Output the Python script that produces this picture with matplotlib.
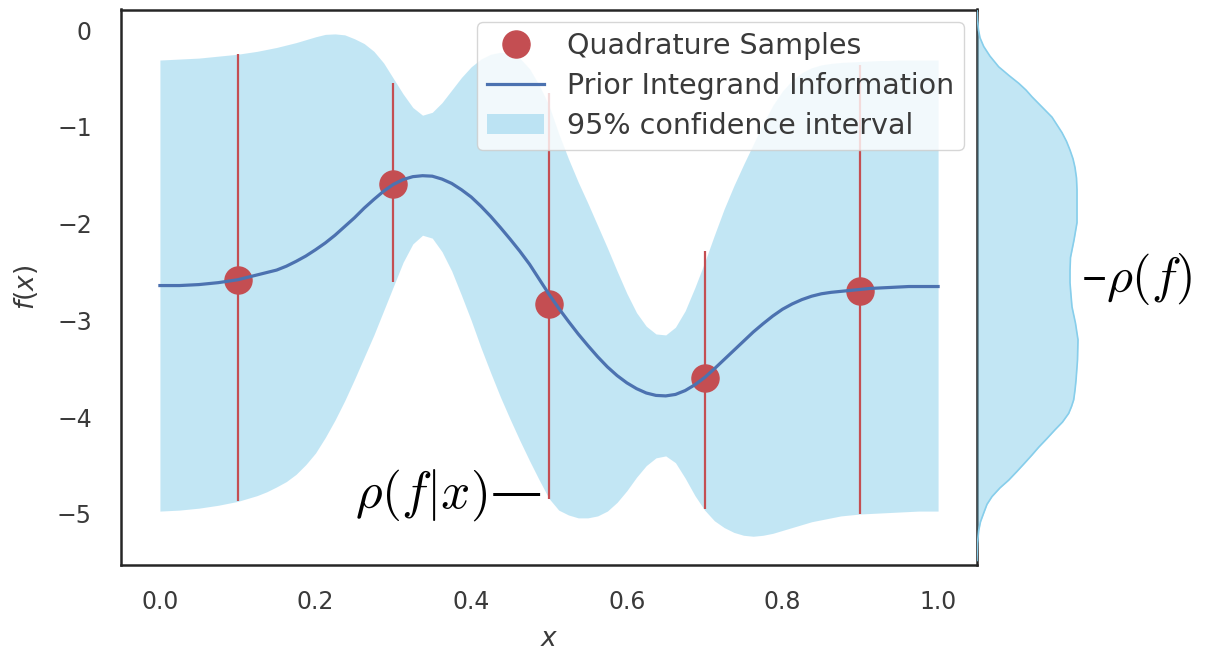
import numpy as np
import matplotlib
matplotlib.use("Agg")
import matplotlib.pyplot as plt
from matplotlib.lines import Line2D
from matplotlib.patches import Patch

# ---------------- data ----------------
x_grid = np.linspace(0.0, 1.0, 81)   # sampling positions, step 0.0125

mean_f = [-2.64, -2.64, -2.64, -2.635, -2.63, -2.62, -2.61, -2.595, -2.58, -2.555,
          -2.53, -2.505, -2.48, -2.44, -2.39, -2.335, -2.27, -2.20, -2.12, -2.03,
          -1.94, -1.84, -1.75, -1.665, -1.595, -1.545, -1.515, -1.505, -1.51, -1.54,
          -1.585, -1.65, -1.725, -1.82, -1.925, -2.04, -2.16, -2.285, -2.42, -2.575,
          -2.73, -2.875, -3.01, -3.14, -3.26, -3.375, -3.48, -3.57, -3.645, -3.705,
          -3.75, -3.775, -3.78, -3.765, -3.725, -3.665, -3.59, -3.50, -3.405, -3.31,
          -3.215, -3.12, -3.035, -2.955, -2.885, -2.83, -2.785, -2.75, -2.725, -2.71,
          -2.70, -2.69, -2.68, -2.67, -2.665, -2.66, -2.655, -2.65, -2.65, -2.65, -2.65]

upper_f = [-0.31, -0.305, -0.30, -0.295, -0.29, -0.28, -0.27, -0.26, -0.25, -0.235,
           -0.22, -0.20, -0.18, -0.155, -0.13, -0.10, -0.07, -0.045, -0.04, -0.05,
           -0.09, -0.14, -0.22, -0.34, -0.50, -0.66, -0.80, -0.88, -0.85, -0.75,
           -0.62, -0.49, -0.38, -0.30, -0.25, -0.23, -0.24, -0.29, -0.40, -0.57,
           -0.78, -1.07, -1.33, -1.57, -1.79, -2.02, -2.25, -2.49, -2.72, -2.92,
           -3.06, -3.14, -3.15, -3.07, -2.90, -2.66, -2.40, -2.12, -1.85, -1.61,
           -1.39, -1.18, -0.97, -0.78, -0.63, -0.52, -0.44, -0.39, -0.36, -0.345,
           -0.335, -0.33, -0.325, -0.32, -0.315, -0.315, -0.31, -0.31, -0.31, -0.31, -0.31]

lower_f = [-4.97, -4.965, -4.96, -4.95, -4.94, -4.925, -4.91, -4.89, -4.87, -4.84,
           -4.81, -4.77, -4.72, -4.665, -4.59, -4.49, -4.37, -4.21, -4.03, -3.83,
           -3.61, -3.38, -3.15, -2.90, -2.65, -2.40, -2.21, -2.12, -2.15, -2.29,
           -2.49, -2.74, -3.00, -3.28, -3.54, -3.79, -4.02, -4.24, -4.45, -4.65,
           -4.84, -4.96, -5.01, -5.04, -5.04, -5.02, -4.97, -4.88, -4.76, -4.62,
           -4.50, -4.42, -4.40, -4.47, -4.63, -4.81, -4.96, -5.07, -5.14, -5.19,
           -5.22, -5.23, -5.22, -5.20, -5.17, -5.14, -5.11, -5.08, -5.06, -5.04,
           -5.02, -5.01, -5.00, -4.995, -4.99, -4.985, -4.98, -4.975, -4.97, -4.97, -4.97]

sample_x = [0.1, 0.3, 0.5, 0.7, 0.9]
sample_f = [-2.58, -1.59, -2.83, -3.59, -2.70]
sample_top = [-0.25, -0.55, -0.65, -2.28, -0.36]
sample_bottom = [-4.87, -2.60, -4.84, -4.95, -5.00]

# marginal density rho(f)
marg_f = [0.21, 0.10, 0.00, -0.08, -0.17, -0.27, -0.38, -0.47, -0.55, -0.62,
          -0.69, -0.80, -0.90, -0.98, -1.06, -1.15, -1.24, -1.33, -1.42, -1.53,
          -1.65, -1.82, -1.99, -2.17, -2.35, -2.48, -2.61, -2.74, -2.86, -3.03,
          -3.20, -3.41, -3.62, -3.72, -3.82, -3.89, -3.96, -4.05, -4.13, -4.22,
          -4.31, -4.39, -4.47, -4.56, -4.65, -4.73, -4.82, -4.90, -4.99, -5.08,
          -5.17, -5.30, -5.48]
marg_density = [0.0, 0.005, 0.015, 0.03, 0.067, 0.13, 0.217, 0.32, 0.417, 0.49,
                0.55, 0.655, 0.75, 0.80, 0.85, 0.895, 0.93, 0.96, 0.98, 0.995,
                1.00, 1.00, 1.00, 0.97, 0.935, 0.93, 0.93, 0.94, 0.95, 0.985,
                1.01, 1.005, 0.99, 0.98, 0.967, 0.945, 0.917, 0.855, 0.78, 0.70,
                0.617, 0.55, 0.48, 0.40, 0.317, 0.23, 0.15, 0.10, 0.067, 0.035,
                0.017, 0.005, 0.0]

x_ticks = [0.0, 0.2, 0.4, 0.6, 0.8, 1.0]
y_ticks = [0, -1, -2, -3, -4, -5]

# ---------------- style ----------------
RED = "#C44E52"
BLUE = "#4C72B0"
SKY = "skyblue"
TXT = "#262626"
TICK = "#3a3a3a"

plt.rcParams['font.family'] = ['DejaVu Sans']
plt.rcParams['mathtext.fontset'] = 'dejavusans'

W, H = 1211, 656
fig = plt.figure(figsize=(W / 100, H / 100), dpi=100)

ax_l, ax_r = 121, 977
ax_t, ax_b = 9.5, 565
ax = fig.add_axes([ax_l / W, 1 - ax_b / H, (ax_r - ax_l) / W, (ax_b - ax_t) / H])

ax.fill_between(x_grid, lower_f, upper_f, color=SKY, alpha=0.5, lw=0, zorder=1)
ax.vlines(sample_x, sample_bottom, sample_top, color=RED, lw=1.6, zorder=2)
ax.plot(sample_x, sample_f, 'o', color=RED, markersize=19.5, zorder=3)
ax.plot(x_grid, mean_f, color=BLUE, lw=2.3, zorder=4)

ax.set_xlim(-0.05, 1.05)
ax.set_ylim(-5.527, 0.212)
ax.set_xticks(x_ticks)
ax.set_xticklabels([f"{v:.1f}" for v in x_ticks])
ax.set_yticks(y_ticks)
ax.set_yticklabels([f"{v}" if v == 0 else f"\u2212{abs(v)}" for v in y_ticks])
ax.tick_params(axis='both', length=0, labelsize=17, colors=TICK, pad=18)
ax.tick_params(axis='y', pad=21)
for s in ax.spines.values():
    s.set_color(TXT)
    s.set_linewidth(1.8)

ax.set_xlabel(r"$x$", fontsize=19, color=TICK, labelpad=9)
ax.set_ylabel(r"$f(x)$", fontsize=19, color=TICK, labelpad=12)

handles = [
    Line2D([], [], marker='o', ls='none', color=RED, markersize=19.5),
    Line2D([], [], color=BLUE, lw=2.3),
    Patch(facecolor=SKY, alpha=0.5, lw=0),
]
labels = ["Quadrature Samples", "Prior Integrand Information", "95% confidence interval"]
leg = ax.legend(handles, labels, loc='upper right', fontsize=20.5, frameon=True,
                labelspacing=0.42, borderpad=0.35, handletextpad=0.8,
                borderaxespad=0.45, framealpha=0.8)
for t in leg.get_texts():
    t.set_color(TICK)

ax.text(0.49, -4.93, r"$\rho(f|x)$—", fontsize=37, ha='right', va='baseline',
        math_fontfamily='cm', family='DejaVu Serif', color='black')

# marginal density axis
mw = 105
axm = fig.add_axes([ax_r / W, 1 - ax_b / H, mw / W, (ax_b - ax_t) / H])
axm.fill_betweenx(marg_f, 0, marg_density, color=SKY, alpha=0.5, lw=0)
axm.plot(marg_density, marg_f, color=SKY, lw=1.2)
axm.set_xlim(0, 1.05)
axm.set_ylim(ax.get_ylim())
axm.axis('off')

fig.text(1081 / W, 1 - 292 / H, r"–$\rho(f)$", fontsize=36, ha='left', va='baseline',
         math_fontfamily='cm', family='DejaVu Serif', color='black')

fig.savefig("out.png", dpi=100)
